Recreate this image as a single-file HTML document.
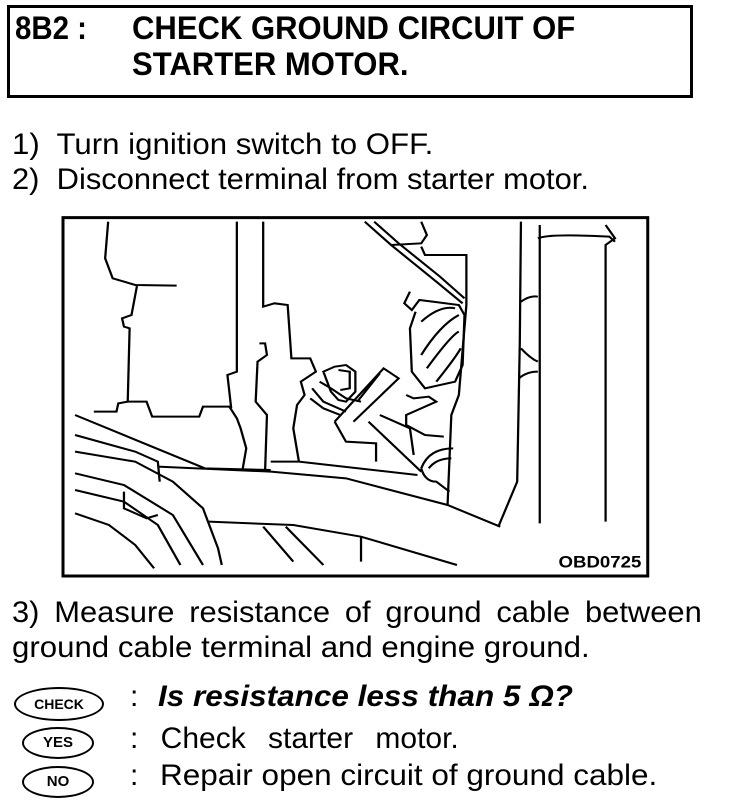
<!DOCTYPE html>
<html><head><meta charset="utf-8"><style>
html,body{margin:0;padding:0;background:#fff;width:736px;height:812px;overflow:hidden;position:relative}
.t{position:absolute;font-family:"Liberation Sans",sans-serif;color:#000;white-space:nowrap;transform-origin:0 0}
.b{font-weight:bold}
.box{position:absolute;left:7px;top:5px;width:680px;height:87px;border:3px solid #000}
.ov{position:absolute;border:2px solid #000;border-radius:50%;font-family:"Liberation Sans",sans-serif;font-weight:bold;text-align:center}
</style></head><body>
<div class="box"></div>
<div class="t b" style="left:15px;top:10px;font-size:32px;transform:scaleX(0.92)">8B2 :</div>
<div class="t b" style="left:132px;top:10px;font-size:32px;transform:scaleX(0.97)">CHECK GROUND CIRCUIT OF</div>
<div class="t b" style="left:132px;top:46px;font-size:32px;transform:scaleX(0.97)">STARTER MOTOR.</div>
<div class="t" style="left:12px;top:128px;font-size:30px;transform:scaleX(1.04)">1)&nbsp; Turn ignition switch to OFF.</div>
<div class="t" style="left:12px;top:163px;font-size:30px;transform:scaleX(1.03)">2)&nbsp; Disconnect terminal from starter motor.</div>
<svg style="position:absolute;left:60px;top:215px" width="590" height="370" viewBox="0 0 1568 1110" preserveAspectRatio="none">
<g fill="none" stroke="#000" stroke-width="6" vector-effect="non-scaling-stroke">
<rect x="8" y="8" width="1554" height="1075" style="stroke-width:3px" vector-effect="non-scaling-stroke"/>
<path d="M128 20 L120 130 L140 190 L200 210 L310 212 M205 210 L190 300 L165 310 L170 335 L185 340 L180 560 L155 565 L150 590 L90 590 M180 560 L230 560 L245 605 L370 605 L380 575 L450 575 L470 610 L480 640 L495 700 L485 765"/>
<path d="M470 20 L470 470 L445 480 L455 580 M540 20 L540 275 L570 265 L605 270 L615 430 L665 430 L680 470 L640 500 L650 540 L630 570 L620 640 L635 740"/>
<path d="M530 385 L545 385 L550 420 L525 440 L520 560 L550 600 L545 770 M560 740 L635 740 L950 780"/>
<path d="M40 600 L385 760 L560 765 M40 660 L200 710 L260 740 L265 800 M40 710 L200 740 L300 800 L380 880 L420 1000 L430 1050 M40 775 L170 810 L300 900 L380 1050 M40 825 L170 860 L260 930 L320 1050 M40 895 L130 930 L200 990 L250 1060 M170 830 L170 880 L230 910 L260 900"/>
<path d="M260 755 L560 770 L760 790 L1030 870 L1170 935 M395 920 L620 930 L800 965 L1055 1050 M540 935 L620 1040 M600 935 L700 1050 M800 965 L800 1040"/>
<path d="M810 20 L880 90 L1000 200 L1070 265 M835 20 L900 85 L1010 185 L1075 250 M880 90 L960 85 L975 60 L960 20 M960 95 L970 120 L1080 120 L1080 270 L1060 540 L1040 600 L1030 870"/>
<path d="M930 230 L915 265 L935 285 L955 255 L990 260 L1060 270 L1075 300 L1070 450 L1050 500 L970 520 L935 470 L930 340 L945 290"/>
<path d="M960 320 Q1010 270 1050 280 M960 420 Q1010 330 1060 300 M975 460 Q1040 360 1060 350 M1000 500 Q1050 430 1065 400"/>
<path d="M700 470 L730 455 L760 450 L785 470 L785 530 L760 560 L740 555 L720 530 Z M740 465 L770 470 L770 520 L745 525 M690 500 L720 520 L760 550 L800 560 M670 520 L700 560 L760 590 M665 550 L700 580 L745 600"/>
<path d="M730 620 L760 680 L840 685 L840 740 M730 620 L860 460 L900 490 L780 620 M790 560 L850 475 M850 600 L930 640 L940 720 M820 620 L960 770 M920 540 L940 550 L980 545 L1000 560 L920 600 L920 630 L970 660 L1020 665"/>
<path d="M960 760 Q980 700 1045 700 M960 760 Q970 800 1000 800 L1035 830 M980 760 Q1000 730 1040 730"/>
<path d="M1225 20 L1222 380 L1215 800 L1165 935 M1275 30 L1275 925 M1270 70 Q1300 55 1460 65 L1475 80 M1450 30 L1475 70 L1450 90 L1450 920 M1225 260 Q1250 240 1270 245 M1225 400 Q1250 430 1270 440 M1220 490 Q1240 470 1270 470"/>
</g>
<text x="1325" y="1058" font-family="Liberation Sans" font-weight="bold" font-size="50" textLength="220" lengthAdjust="spacingAndGlyphs">OBD0725</text>
</svg>
<div class="t" style="left:12px;top:596px;font-size:30px;word-spacing:6px;transform:scaleX(1.03)">3) Measure resistance of ground cable between</div>
<div class="t" style="left:12px;top:631px;font-size:30px;transform:scaleX(1.04)">ground cable terminal and engine ground.</div>
<div class="ov" style="left:14px;top:687px;width:86px;height:30px;line-height:30px;font-size:14px">CHECK</div>
<div class="t" style="left:130px;top:680px;font-size:30px">:</div>
<div class="t b" style="left:158px;top:680px;font-size:30px;font-style:italic;transform:scaleX(1.05)">Is resistance less than 5 Ω?</div>
<div class="ov" style="left:22px;top:727px;width:68px;height:28px;line-height:28px;font-size:15px">YES</div>
<div class="t" style="left:130px;top:722px;font-size:30px;word-spacing:14px">: Check starter motor.</div>
<div class="ov" style="left:22px;top:766px;width:68px;height:28px;line-height:28px;font-size:15px">NO</div>
<div class="t" style="left:130px;top:759px;font-size:30px">:</div>
<div class="t" style="left:160px;top:759px;font-size:30px;transform:scaleX(1.05)">Repair open circuit of ground cable.</div>
</body></html>
